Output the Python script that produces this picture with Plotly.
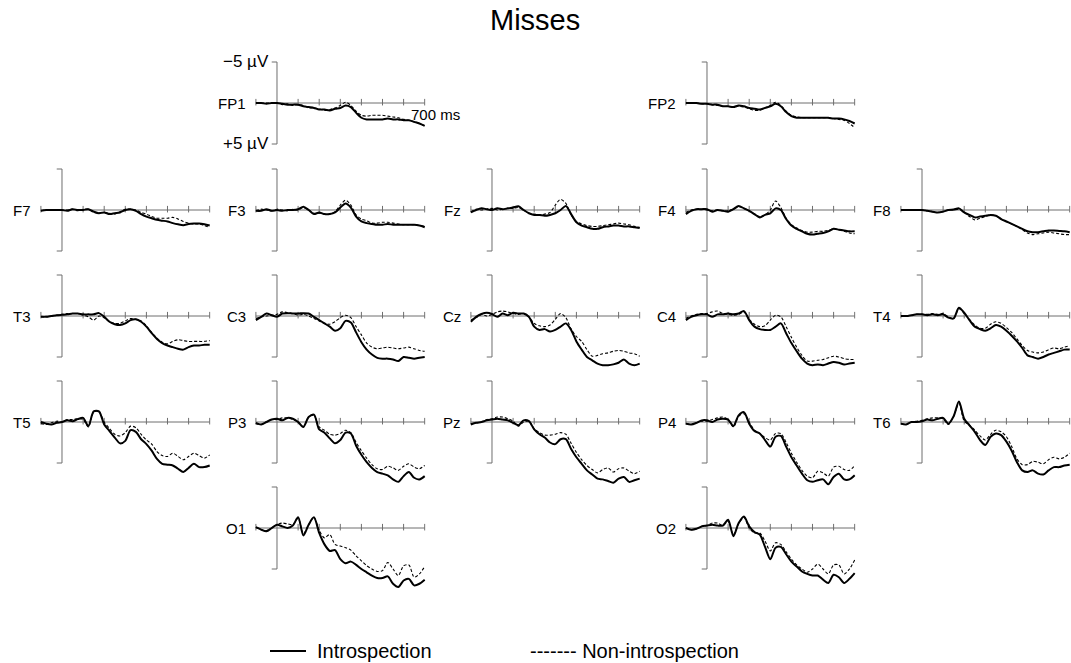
import plotly.graph_objects as go

W, H = 1071, 663

# ---------------- data (µV, negative plotted upwards) ----------------
time_ms = [-100, -75, -50, -25, 0, 25, 50, 75, 100, 125, 150, 175, 200, 225, 250, 275,
           300, 325, 350, 375, 400, 425, 450, 475, 500, 525, 550, 575, 600, 625, 650, 675, 700]

channels = ["FP1", "FP2", "F7", "F3", "Fz", "F4", "F8", "T3", "C3", "Cz", "C4", "T4",
            "T5", "P3", "Pz", "P4", "T6", "O1", "O2"]
grid_row = [0, 0, 1, 1, 1, 1, 1, 2, 2, 2, 2, 2, 3, 3, 3, 3, 3, 4, 4]
grid_col = [1, 3, 0, 1, 2, 3, 4, 0, 1, 2, 3, 4, 0, 1, 2, 3, 4, 1, 3]

fp1_intro = [0, 0, 0.1, 0, 0, 0.1, 0.2, 0.2, 0.2, 0.4, 0.5, 0.6, 0.8, 0.8, 0.9, 0.7, 0.6, 0.3, 0.5, 1.2,
             1.8, 2.0, 2.0, 2.0, 2.0, 1.9, 2.0, 2.0, 2.1, 2.1, 2.3, 2.5, 2.8]
fp1_non = [0, 0, 0, 0, 0, 0.2, 0.1, 0.3, 0.2, 0.3, 0.6, 0.6, 0.7, 0.9, 0.8, 0.6, 0.3, -0.1, 0.3, 1.0,
           1.5, 1.6, 1.5, 1.5, 1.5, 1.6, 1.7, 1.8, 2.0, 2.1, 2.3, 2.5, 2.8]
fp2_intro = [0, 0, 0, 0.1, 0.1, 0.2, 0.2, 0.4, 0.4, 0.5, 0.3, 0.4, 0.6, 0.7, 0.8, 0.6, 0.4, 0.1, 0.4, 1.1,
             1.6, 1.8, 1.8, 1.8, 1.8, 1.8, 1.8, 1.8, 1.9, 1.9, 2.0, 2.2, 2.5]
fp2_non = [0, 0, 0, 0.1, 0.1, 0.2, 0.3, 0.4, 0.4, 0.5, 0.4, 0.5, 0.7, 0.9, 0.9, 0.6, 0.3, -0.1, 0.3, 1.0,
           1.5, 1.7, 1.8, 1.8, 1.8, 1.8, 1.8, 1.8, 1.9, 2.0, 2.1, 2.5, 3.0]
f7_intro = [0.1, 0, 0, 0, 0, 0.1, -0.1, 0, 0, -0.1, 0.2, 0.4, 0.3, 0.5, 0.4, 0.3, 0, -0.1, 0.1, 0.5,
            0.8, 1.0, 1.2, 1.3, 1.4, 1.6, 1.75, 1.85, 1.7, 1.65, 1.65, 1.75, 1.9]
f7_non = [0.1, 0, 0, 0, 0, 0, -0.1, 0.1, -0.1, -0.1, 0.3, 0.3, 0.3, 0.4, 0.5, 0.2, -0.1, -0.1, 0.0, 0.3,
          0.5, 0.8, 1.0, 1.0, 1.0, 0.9, 1.1, 1.4, 1.6, 1.7, 1.7, 1.9, 2.1]
f3_intro = [0.1, 0.1, -0.1, 0.1, 0, 0.1, 0, 0, -0.1, -0.4, 0, 0.5, 0.3, 0.5, 0.5, 0.3, -0.3, -0.8, -0.3, 0.8,
            1.4, 1.6, 1.7, 1.8, 1.8, 1.7, 1.8, 1.8, 1.8, 1.8, 1.8, 1.9, 2.1]
f3_non = [0.1, -0.1, 0, 0.1, -0.1, 0, 0.1, -0.1, 0, -0.3, 0, 0.4, 0.4, 0.5, 0.5, 0.2, -0.6, -1.2, -0.6, 0.6,
          1.1, 1.3, 1.6, 1.6, 1.5, 1.5, 1.6, 1.7, 1.8, 1.8, 1.8, 1.9, 2.0]
fz_intro = [0.3, 0, -0.2, -0.1, 0, -0.2, -0.1, -0.2, -0.3, -0.45, 0, 0.4, 0.6, 0.6, 0.7, 0.6, 0.4, 0, -0.5, 0.5,
            1.5, 1.9, 2.1, 2.3, 2.3, 2.1, 2.0, 1.9, 1.9, 2.0, 2.0, 2.1, 2.2]
fz_non = [0.2, -0.1, 0, -0.1, -0.2, 0, -0.1, -0.2, -0.2, -0.3, 0, 0.4, 0.5, 0.6, 0.5, 0.3, -0.6, -1.3, -0.8, 0.6,
          1.4, 1.7, 1.9, 2.0, 2.0, 1.9, 1.8, 1.7, 1.6, 1.7, 1.8, 2.0, 2.1]
f4_intro = [0.5, 0.1, -0.1, -0.1, -0.1, 0.2, 0, 0.1, 0.2, -0.1, -0.5, -0.2, 0.1, 0.5, 0.9, 0.6, 0.4, -0.2, 0.0, 1.1,
            1.9, 2.3, 2.6, 2.9, 3.0, 2.9, 2.8, 2.6, 2.3, 2.4, 2.5, 2.6, 2.6]
f4_non = [0.3, 0, -0.1, -0.1, 0, 0.1, 0, 0.1, 0.1, -0.1, -0.4, -0.2, 0.1, 0.5, 0.8, 0.6, 0.0, -1.1, -0.3, 1.0,
          1.8, 2.2, 2.5, 2.7, 2.7, 2.6, 2.6, 2.5, 2.3, 2.4, 2.6, 2.8, 2.9]
f8_intro = [0, 0, 0, 0, 0, 0.1, 0.2, 0.3, 0.2, 0, -0.05, -0.2, 0.3, 0.6, 0.9, 0.8, 0.7, 0.6, 0.7, 1.1,
            1.4, 1.7, 2.0, 2.3, 2.6, 2.7, 2.7, 2.6, 2.5, 2.5, 2.55, 2.6, 2.7]
f8_non = [0, 0, 0, 0, 0, 0.1, 0.2, 0.3, 0.2, 0, 0, -0.1, 0.3, 0.8, 1.2, 1.0, 0.8, 0.6, 0.7, 1.1,
          1.4, 1.7, 2.0, 2.4, 2.8, 3.0, 2.9, 2.8, 2.7, 2.8, 2.9, 3.0, 3.0]
t3_intro = [0.1, 0.1, 0, -0.1, -0.15, -0.2, -0.3, -0.3, -0.2, -0.2, -0.2, -0.35, 0.1, 0.7, 1.0, 1.1, 0.9, 0.5, 0.4, 0.7,
            1.3, 2.1, 2.8, 3.3, 3.6, 3.8, 4.0, 4.1, 3.8, 3.6, 3.6, 3.5, 3.5]
t3_non = [0.1, 0.1, 0, -0.1, -0.2, -0.3, -0.3, -0.3, -0.1, 0.1, 0.5, 0, 0.2, 0.7, 0.9, 0.9, 0.6, 0.3, 0.4, 0.6,
          1.2, 2.0, 2.7, 3.2, 3.4, 3.1, 2.9, 3.0, 3.1, 3.1, 3.1, 3.1, 3.0]
c3_intro = [0.5, 0.1, -0.3, -0.1, 0.1, -0.3, -0.35, -0.3, -0.3, -0.35, -0.3, 0.1, 0.5, 0.9, 1.3, 1.8, 1.5, 0.6, 0.8, 2.0,
            3.2, 4.1, 4.7, 5.1, 5.2, 5.2, 5.3, 5.5, 5.0, 5.1, 5.2, 5.1, 5.0]
c3_non = [0.3, 0.1, 0, -0.1, -0.2, -0.5, -0.4, -0.3, -0.1, -0.2, 0, 0.3, 0.6, 0.9, 1.0, 0.7, 0.2, -0.1, 0.2, 1.3,
          2.3, 3.3, 3.8, 4.0, 3.9, 3.8, 3.9, 4.0, 3.9, 3.8, 4.0, 4.2, 4.3]
cz_intro = [0.7, 0.1, -0.25, -0.4, -0.25, 0.1, -0.3, -0.1, -0.4, -0.3, -0.3, 0.1, 1.3, 1.7, 1.6, 1.9, 1.7, 1.3, 0.9, 1.7,
            3.1, 4.1, 5.0, 5.4, 5.8, 6.0, 6.0, 5.9, 5.7, 5.3, 5.8, 6.0, 5.8]
cz_non = [0.5, 0.2, -0.2, 0, -0.2, -0.5, -0.6, -0.5, -0.3, -0.2, -0.3, 0.1, 0.9, 1.2, 1.3, 1.1, 0.4, -0.3, 0.2, 1.6,
          2.5, 3.1, 4.1, 4.9, 4.8, 4.6, 4.5, 4.3, 4.2, 4.3, 4.5, 4.6, 4.9]
c4_intro = [0.5, 0.1, -0.1, -0.2, -0.2, 0.1, -0.2, -0.2, -0.3, -0.2, -0.3, -0.6, 0.5, 1.3, 1.6, 1.7, 1.7, 1.3, 0.9, 2.1,
            3.3, 4.3, 5.2, 5.8, 6.0, 5.9, 6.0, 5.8, 5.6, 5.7, 5.9, 5.8, 5.7]
c4_non = [0.3, 0, -0.2, -0.3, -0.3, -0.5, -0.6, -0.3, -0.2, -0.1, -0.2, -0.5, 0.4, 1.0, 1.3, 1.2, 0.5, -0.1, 0.1, 1.3,
          2.6, 3.8, 4.8, 5.5, 5.5, 5.4, 5.3, 5.1, 4.9, 5.0, 5.2, 5.3, 5.3]
t4_intro = [0, 0, -0.1, -0.2, -0.2, -0.1, -0.2, -0.1, -0.2, 0.2, 0.3, -1.0, -0.4, 0.5, 1.3, 1.6, 1.8, 1.5, 1.1, 1.3,
            1.8, 2.4, 3.1, 3.9, 4.8, 5.0, 5.2, 5.0, 4.7, 4.5, 4.3, 4.1, 4.1]
t4_non = [0, 0, -0.1, -0.2, -0.2, -0.2, -0.3, -0.2, -0.3, 0.1, 0.3, -0.9, -0.3, 0.4, 1.1, 1.5, 1.5, 1.0, 0.7, 0.9,
          1.4, 2.0, 2.8, 3.6, 4.2, 4.4, 4.5, 4.4, 4.1, 3.9, 4.0, 3.8, 3.6]
t5_intro = [0, 0.2, 0.3, 0.1, 0, -0.2, -0.1, -0.35, -0.5, 0.5, -1.3, -1.3, 0.3, 1.1, 1.9, 2.6, 2.3, 1.0, 1.2, 2.1,
            2.7, 3.5, 4.5, 5.1, 5.2, 5.3, 5.7, 6.1, 5.6, 5.1, 5.5, 5.5, 5.3]
t5_non = [0.2, 0.3, 0.1, -0.1, 0, -0.3, -0.3, -0.4, -0.3, 0.6, -1.2, -1.3, 0.0, 0.8, 1.5, 1.7, 1.3, 0.5, 0.7, 1.5,
          2.2, 2.7, 3.6, 4.1, 4.2, 3.8, 4.2, 4.6, 4.2, 3.8, 4.1, 4.4, 4.0]
p3_intro = [0.1, 0.3, 0, -0.3, -0.4, -0.2, -0.5, -0.4, 0.0, 0.6, -0.6, -0.9, 0.9, 1.3, 2.0, 2.6, 2.2, 1.3, 1.4, 2.9,
            4.0, 4.9, 5.6, 6.1, 6.3, 6.5, 7.0, 7.3, 6.6, 6.1, 6.8, 7.0, 6.6]
p3_non = [0.2, 0.3, 0, -0.3, -0.3, -0.5, -0.5, -0.3, 0.0, 0.6, -0.6, -0.8, 0.6, 1.0, 1.5, 1.6, 1.4, 1.0, 1.3, 2.5,
          3.5, 4.4, 5.2, 5.7, 5.8, 5.4, 5.6, 5.9, 5.4, 5.1, 5.5, 5.7, 5.3]
pz_intro = [0.3, 0.1, 0, -0.2, -0.3, -0.4, -0.3, -0.2, 0.1, 0.4, -0.2, -0.1, 0.9, 1.5, 1.9, 2.5, 2.7, 2.1, 2.1, 3.3,
            4.3, 5.1, 5.9, 6.4, 6.9, 7.0, 7.2, 7.4, 6.9, 6.7, 7.3, 7.1, 6.9]
pz_non = [0.2, 0.1, 0, -0.3, -0.4, -0.6, -0.6, -0.4, -0.1, 0.5, 0.0, -0.1, 0.8, 1.3, 1.6, 1.6, 1.5, 1.3, 1.5, 2.6,
          3.7, 4.6, 5.3, 5.8, 6.2, 5.8, 5.6, 6.1, 5.7, 5.6, 6.0, 6.3, 6.0]
p4_intro = [0.2, 0.3, 0.1, -0.2, -0.2, 0, -0.3, -0.4, -0.3, 0.5, -0.8, -1.2, 0.2, 1.1, 1.4, 2.2, 3.0, 1.8, 1.7, 3.0,
            4.3, 5.3, 6.3, 7.1, 7.3, 7.1, 7.0, 7.6, 6.7, 6.3, 7.0, 7.0, 6.5]
p4_non = [0.2, 0.3, 0.1, -0.1, -0.1, -0.3, -0.5, -0.6, -0.3, 0.6, -0.7, -1.0, 0.0, 1.0, 1.4, 1.9, 2.2, 1.4, 1.4, 2.5,
          3.8, 4.9, 5.9, 6.6, 6.8, 6.0, 6.2, 6.6, 5.5, 5.4, 5.8, 5.9, 5.3]
t6_intro = [0.2, 0.3, 0, 0, -0.1, -0.3, -0.2, -0.4, -0.5, 0.2, -0.7, -2.5, -0.4, 0.4, 1.2, 2.2, 2.8, 1.8, 1.4, 1.6,
            2.4, 3.5, 4.9, 5.9, 6.1, 5.9, 6.3, 6.4, 5.9, 5.5, 5.5, 5.3, 5.2]
t6_non = [0.2, 0.3, 0, -0.1, -0.2, -0.4, -0.5, -0.5, -0.4, 0.3, -0.7, -2.3, -0.1, 0.4, 1.0, 1.7, 2.2, 1.5, 1.0, 1.2,
          1.8, 3.0, 4.5, 5.2, 5.2, 4.8, 4.9, 5.1, 4.6, 4.3, 4.5, 4.3, 3.8]
o1_intro = [-0.1, 0.2, 0.4, 0, -0.4, -0.2, 0, -0.3, -1.3, 0.9, -0.4, -1.3, 0.6, 2.0, 2.8, 2.7, 3.8, 4.3, 4.1, 4.5,
            5.0, 5.4, 5.8, 6.1, 6.1, 5.9, 6.8, 7.2, 6.4, 6.2, 7.0, 6.8, 6.3]
o1_non = [-0.1, 0.2, 0.3, 0, -0.4, -0.6, -0.5, -0.4, -1.2, 0.7, -0.4, -1.3, 0.3, 1.2, 0.8, 2.0, 2.2, 2.4, 2.7, 3.4,
          4.0, 4.6, 5.0, 5.3, 5.2, 4.2, 5.0, 5.8, 4.6, 4.5, 6.0, 5.6, 4.7]
o2_intro = [0, 0.2, 0.1, -0.2, -0.3, -0.4, -0.3, -0.3, -1.0, 1.0, -0.6, -1.4, -0.2, 0.5, 0.8, 2.3, 3.8, 2.4, 2.3, 3.2,
            4.1, 4.7, 5.3, 5.6, 5.8, 5.8, 6.3, 6.7, 5.7, 6.0, 6.7, 6.2, 5.5]
o2_non = [0, 0.2, 0.1, -0.2, -0.3, -0.6, -0.6, -0.3, -0.8, 0.8, -0.5, -1.3, 0.0, 0.6, 0.6, 1.6, 2.8, 1.8, 2.0, 2.9,
          3.8, 4.5, 5.0, 5.4, 5.0, 4.4, 5.0, 5.6, 4.5, 4.5, 5.6, 5.0, 3.9]

intro_series = [fp1_intro, fp2_intro, f7_intro, f3_intro, fz_intro, f4_intro, f8_intro,
                t3_intro, c3_intro, cz_intro, c4_intro, t4_intro,
                t5_intro, p3_intro, pz_intro, p4_intro, t6_intro, o1_intro, o2_intro]
non_series = [fp1_non, fp2_non, f7_non, f3_non, fz_non, f4_non, f8_non,
              t3_non, c3_non, cz_non, c4_non, t4_non,
              t5_non, p3_non, pz_non, p4_non, t6_non, o1_non, o2_non]

axis_ticks_ms = [-100, 100, 200, 300, 400, 500, 600, 700]

# ---------------- geometry ----------------
COL_ZERO_PX = [62, 277, 492, 707, 922]
ROW_BASE_PX = [103, 210, 316, 422, 528]
PX_PER_MS = 0.211
PX_PER_UV = 8.2
X_RANGE = [-105, 705]
Y_RANGE = [10, -6.5]   # reversed: negative up

FONT = "Liberation Sans, Arial, Helvetica, sans-serif"
AXIS_COLOR = "#6e6e6e"

fig = go.Figure()
layout = dict(width=W, height=H, margin=dict(l=0, r=0, t=0, b=0),
              paper_bgcolor="white", plot_bgcolor="white", showlegend=False,
              font=dict(family=FONT, color="black"))
annotations = []
shapes = []

for i, name in enumerate(channels):
    n = i + 1
    xa = "x" if n == 1 else f"x{n}"
    ya = "y" if n == 1 else f"y{n}"
    x0 = COL_ZERO_PX[grid_col[i]]
    y0 = ROW_BASE_PX[grid_row[i]]
    xd = [(x0 + X_RANGE[0] * PX_PER_MS) / W, min(1.0, (x0 + X_RANGE[1] * PX_PER_MS) / W)]
    yd = [1 - (y0 + Y_RANGE[0] * PX_PER_UV) / H, 1 - (y0 + Y_RANGE[1] * PX_PER_UV) / H]
    layout["xaxis" if n == 1 else f"xaxis{n}"] = dict(domain=xd, range=X_RANGE, visible=False,
                                                      fixedrange=True, anchor=ya)
    layout["yaxis" if n == 1 else f"yaxis{n}"] = dict(domain=yd, range=Y_RANGE, visible=False,
                                                      fixedrange=True, anchor=xa)

    # axis frame (horizontal time axis with ticks, vertical µV bar with end brackets)
    ax_x, ax_y = [-100, 700, None], [0, 0, None]
    for t in axis_ticks_ms:
        ax_x += [t, t, None]
        ax_y += [-0.5, 0.3, None]
    fig.add_trace(go.Scatter(x=ax_x, y=ax_y, xaxis=xa, yaxis=ya, mode="lines",
                             line=dict(color=AXIS_COLOR, width=1), hoverinfo="skip"))
    fig.add_trace(go.Scatter(x=[-25, 0, 0, -25], y=[-5, -5, 5, 5], xaxis=xa, yaxis=ya, mode="lines",
                             line=dict(color=AXIS_COLOR, width=1), hoverinfo="skip"))

    # waveforms
    fig.add_trace(go.Scatter(x=time_ms, y=non_series[i], xaxis=xa, yaxis=ya, mode="lines",
                             line=dict(color="black", width=1.1, dash="3px,2px", shape="spline",
                                       smoothing=0.8),
                             name="Non-introspection", hoverinfo="skip"))
    fig.add_trace(go.Scatter(x=time_ms, y=intro_series[i], xaxis=xa, yaxis=ya, mode="lines",
                             line=dict(color="black", width=2, shape="spline", smoothing=0.8),
                             name="Introspection", hoverinfo="skip"))

    annotations.append(dict(text=name, xref="paper", yref="paper",
                            x=(x0 - 29) / W, y=1 - y0 / H, xanchor="right", yanchor="middle",
                            showarrow=False, font=dict(size=15, family=FONT, color="black")))

    if name == "FP1":
        annotations.append(dict(text="\u22125 µV", xref=xa, yref=ya, x=-27, y=-5,
                                xanchor="right", yanchor="middle", showarrow=False,
                                font=dict(size=17, family=FONT, color="black")))
        annotations.append(dict(text="+5 µV", xref=xa, yref=ya, x=-27, y=5,
                                xanchor="right", yanchor="middle", showarrow=False,
                                font=dict(size=17, family=FONT, color="black")))
        annotations.append(dict(text="700 ms", xref=xa, yref=ya, x=625, y=1.45,
                                xanchor="left", yanchor="middle", showarrow=False,
                                font=dict(size=15, family=FONT, color="black")))

# title
annotations.append(dict(text="Misses", xref="paper", yref="paper", x=535 / W, y=1 - 20 / H,
                        xanchor="center", yanchor="middle", showarrow=False,
                        font=dict(size=29, family=FONT, color="black")))
# legend
shapes.append(dict(type="line", xref="paper", yref="paper", x0=270 / W, x1=306 / W,
                   y0=1 - 651 / H, y1=1 - 651 / H, line=dict(color="black", width=2)))
annotations.append(dict(text="Introspection", xref="paper", yref="paper", x=315 / W, y=1 - 651 / H,
                        xanchor="left", yanchor="middle", showarrow=False,
                        font=dict(size=20, family=FONT, color="black")))
annotations.append(dict(text="------- Non-introspection", xref="paper", yref="paper", x=528 / W,
                        y=1 - 651 / H, xanchor="left", yanchor="middle", showarrow=False,
                        font=dict(size=20, family=FONT, color="black")))

layout["annotations"] = annotations
layout["shapes"] = shapes
fig.update_layout(**layout)
fig.write_html("out.html", config={"displayModeBar": False},
               post_script="document.body.style.margin='0';document.body.style.padding='0';")
